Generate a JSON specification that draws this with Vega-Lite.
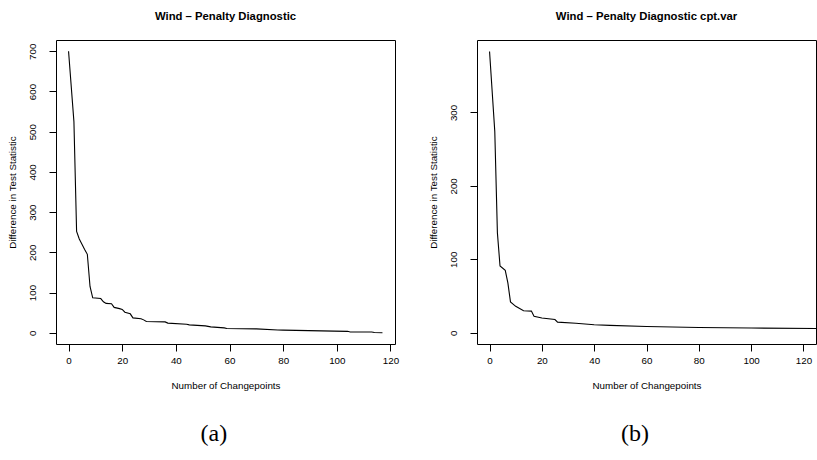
{
  "$schema": "https://vega.github.io/schema/vega-lite/v6.json",
  "padding": {"left": 6, "top": 10, "right": 0, "bottom": 0},
  "background": "white",
  "datasets": {
    "a": [
      {"cp": 0, "diff": 700}, {"cp": 2, "diff": 525}, {"cp": 3, "diff": 252}, {"cp": 4, "diff": 233},
      {"cp": 5, "diff": 220}, {"cp": 6, "diff": 207}, {"cp": 7, "diff": 195}, {"cp": 8, "diff": 115},
      {"cp": 9, "diff": 87}, {"cp": 12, "diff": 85}, {"cp": 13, "diff": 77}, {"cp": 14, "diff": 73},
      {"cp": 16, "diff": 72}, {"cp": 17, "diff": 63}, {"cp": 19, "diff": 60}, {"cp": 20, "diff": 58},
      {"cp": 21, "diff": 51}, {"cp": 23, "diff": 47}, {"cp": 24, "diff": 37}, {"cp": 27, "diff": 35},
      {"cp": 28, "diff": 32}, {"cp": 29, "diff": 28}, {"cp": 36, "diff": 27}, {"cp": 37, "diff": 24},
      {"cp": 44, "diff": 21}, {"cp": 45, "diff": 19.5}, {"cp": 51, "diff": 17}, {"cp": 53, "diff": 14.5},
      {"cp": 58, "diff": 12}, {"cp": 59, "diff": 10.5}, {"cp": 70, "diff": 9.5}, {"cp": 78, "diff": 7},
      {"cp": 80, "diff": 6.5}, {"cp": 99, "diff": 4}, {"cp": 104, "diff": 3.5}, {"cp": 105, "diff": 2},
      {"cp": 113, "diff": 2}, {"cp": 114, "diff": 0.5}, {"cp": 117, "diff": 0}
    ],
    "b": [
      {"cp": 0, "diff": 383}, {"cp": 2, "diff": 274}, {"cp": 3, "diff": 136}, {"cp": 4, "diff": 91},
      {"cp": 6, "diff": 85}, {"cp": 7, "diff": 68}, {"cp": 8, "diff": 42}, {"cp": 10, "diff": 36},
      {"cp": 13, "diff": 30}, {"cp": 16, "diff": 29.5}, {"cp": 17, "diff": 22.5}, {"cp": 20, "diff": 20},
      {"cp": 25, "diff": 18}, {"cp": 26, "diff": 14.5}, {"cp": 33, "diff": 13}, {"cp": 40, "diff": 11},
      {"cp": 46, "diff": 10}, {"cp": 60, "diff": 8.6}, {"cp": 80, "diff": 7.2}, {"cp": 100, "diff": 6.4},
      {"cp": 125, "diff": 5.8}, {"cp": 130, "diff": 5.7}
    ]
  },
  "spacing": 27,
  "hconcat": [
    {
      "title": {"text": "(a)", "orient": "bottom", "font": "Liberation Serif", "fontSize": 24, "fontWeight": "normal", "offset": 31, "dx": 11, "anchor": "middle"},
      "vconcat": [
        {
          "title": "Wind – Penalty Diagnostic",
          "width": 339,
          "height": 304,
          "data": {"name": "a"},
          "mark": {"type": "line", "color": "black", "strokeWidth": 1.1, "clip": true},
          "encoding": {
            "x": {"field": "cp", "type": "quantitative", "scale": {"domain": [-4.68, 121.68], "nice": false, "zero": false},
                  "axis": {"values": [0, 20, 40, 60, 80, 100, 120], "title": "Number of Changepoints"}},
            "y": {"field": "diff", "type": "quantitative", "scale": {"domain": [-28, 728], "nice": false, "zero": false},
                  "axis": {"values": [0, 100, 200, 300, 400, 500, 600, 700], "title": "Difference in Test Statistic"}}
          }
        }
      ]
    },
    {
      "title": {"text": "(b)", "orient": "bottom", "font": "Liberation Serif", "fontSize": 24, "fontWeight": "normal", "offset": 31, "dx": 13, "anchor": "middle"},
      "vconcat": [
        {
          "title": "Wind – Penalty Diagnostic cpt.var",
          "width": 339,
          "height": 304,
          "data": {"name": "b"},
          "mark": {"type": "line", "color": "black", "strokeWidth": 1.1, "clip": true},
          "encoding": {
            "x": {"field": "cp", "type": "quantitative", "scale": {"domain": [-4.8, 124.8], "nice": false, "zero": false},
                  "axis": {"values": [0, 20, 40, 60, 80, 100, 120], "title": "Number of Changepoints"}},
            "y": {"field": "diff", "type": "quantitative", "scale": {"domain": [-15.3, 398.6], "nice": false, "zero": false},
                  "axis": {"values": [0, 100, 200, 300], "title": "Difference in Test Statistic"}}
          }
        }
      ]
    }
  ],
  "config": {
    "font": "Liberation Sans",
    "view": {"stroke": "#000", "strokeWidth": 1},
    "axis": {"domain": false, "grid": false, "tickColor": "#000", "tickSize": 7, "labelColor": "#000",
             "labelFontSize": 9.8, "titleFontSize": 9.8, "titleFontWeight": "normal", "titleColor": "#000",
             "labelFont": "Liberation Sans", "titleFont": "Liberation Sans", "labelOverlap": false, "labelFlush": false},
    "axisX": {"labelPadding": 4, "titlePadding": 16},
    "axisY": {"labelAngle": -90, "labelAlign": "center", "labelBaseline": "alphabetic", "labelPadding": 14, "titlePadding": 10},
    "title": {"fontSize": 11.3, "fontWeight": "bold", "font": "Liberation Sans", "offset": 18, "color": "#000"}
  }
}
